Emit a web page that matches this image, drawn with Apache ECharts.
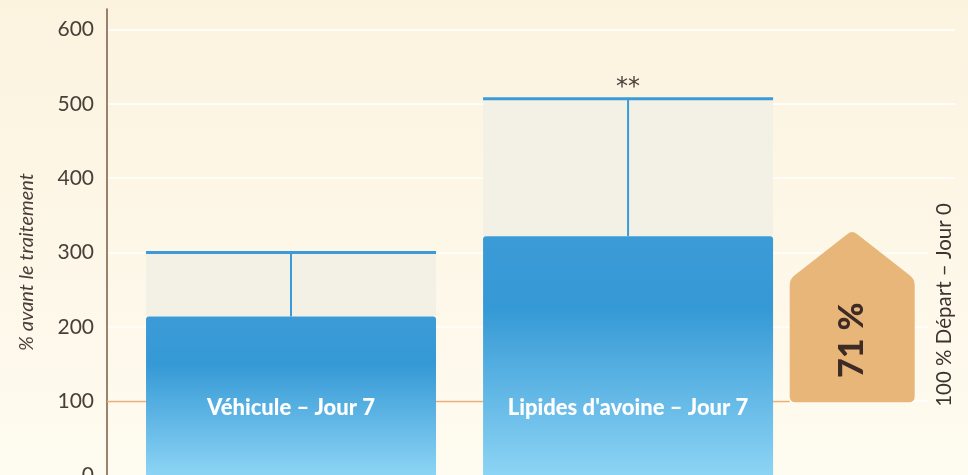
<!DOCTYPE html>
<html>
<head>
<meta charset="utf-8">
<script src="https://cdn.jsdelivr.net/npm/echarts@6/dist/echarts.min.js"></script>
<style>
html,body{margin:0;padding:0;}
#c{width:968px;height:475px;}
</style>
</head>
<body>
<div id="c"></div>
<script>
// ---- data ----
const categories = ['Véhicule – Jour 7', "Lipides d'avoine – Jour 7"];
const meanValues = [214, 322];
const errorTop = [300, 507];
const significance = ['', '**'];
const baseline = 100;          // 100 % Départ – Jour 0
const arrowTop = 330;
const arrowLabel = '71 %';
const yTicks = [0, 100, 200, 300, 400, 500, 600];
const yAxisName = '% avant le traitement';
const rightLabel = '100 % Départ – Jour 0';

// ---- layout ----
const X_MIN = -0.546, X_MAX = 1.970;
const ARROW_X = 1.665;
const BAR_W = 290;
const ARROW_HALF = 62.5;
const ARROW_SHOULDER = 49;

const chart = echarts.init(document.getElementById('c'));

const barData = categories.map((c, i) => [i, meanValues[i]]);
const errData = categories.map((c, i) => [i, meanValues[i], errorTop[i]]);

function roundedPolygon(pts, r) {
  let d = '';
  const n = pts.length;
  for (let i = 0; i < n; i++) {
    const p0 = pts[(i - 1 + n) % n], p1 = pts[i], p2 = pts[(i + 1) % n];
    const v1 = [p0[0] - p1[0], p0[1] - p1[1]], v2 = [p2[0] - p1[0], p2[1] - p1[1]];
    const l1 = Math.hypot(v1[0], v1[1]), l2 = Math.hypot(v2[0], v2[1]);
    const a = [p1[0] + v1[0] / l1 * r, p1[1] + v1[1] / l1 * r];
    const b = [p1[0] + v2[0] / l2 * r, p1[1] + v2[1] / l2 * r];
    d += (i === 0 ? 'M' : 'L') + a[0] + ' ' + a[1] + ' Q' + p1[0] + ' ' + p1[1] + ' ' + b[0] + ' ' + b[1] + ' ';
  }
  return d + 'Z';
}

const option = {
  backgroundColor: {
    type: 'linear', x: 0, y: 0, x2: 0, y2: 1,
    colorStops: [{offset: 0, color: '#fcf3df'}, {offset: 1, color: '#fefbf0'}]
  },
  animation: false,
  grid: [
    {left: 107, right: 13, top: 29.5, bottom: -0.5, outerBoundsMode: 'none', containLabel: false},
    {left: 107, width: 1, top: 9, bottom: -0.5, outerBoundsMode: 'none', containLabel: false}
  ],
  xAxis: [
    {type: 'value', gridIndex: 0, min: X_MIN, max: X_MAX,
     axisLine: {show: true, lineStyle: {color: '#e6ddcf', width: 2}},
     axisTick: {show: false}, axisLabel: {show: false}, splitLine: {show: false}},
    {type: 'value', gridIndex: 1, show: false}
  ],
  yAxis: [
    {type: 'value', gridIndex: 0, min: 0, max: 600, interval: 100,
     axisLine: {show: false}, axisTick: {show: false},
     axisLabel: {color: '#4a3e39', fontSize: 21, fontFamily: 'Lato', margin: 13,
                 formatter: v => yTicks.indexOf(v) >= 0 ? String(v) : ''},
     splitLine: {show: true, lineStyle: {color: '#ffffff', width: 1.5}}},
    {type: 'value', gridIndex: 1, min: 0, max: 1,
     axisLine: {show: true, lineStyle: {color: '#7a5a45', width: 1.5}},
     axisTick: {show: false}, axisLabel: {show: false}, splitLine: {show: false}}
  ],
  series: [
    {
      type: 'custom', xAxisIndex: 0, yAxisIndex: 0, z: 3,
      data: errData,
      renderItem: function (params, api) {
        const x = api.value(0);
        const pm = api.coord([x, api.value(1)]);
        const ph = api.coord([x, api.value(2)]);
        const h = BAR_W / 2;
        const sig = significance[params.dataIndex];
        const children = [
          {type: 'rect', shape: {x: pm[0] - h, y: ph[1], width: BAR_W, height: pm[1] - ph[1]},
           style: {fill: '#f3f1e6'}},
          {type: 'line', shape: {x1: pm[0], y1: pm[1], x2: ph[0], y2: ph[1]},
           style: {stroke: '#3a9bd8', lineWidth: 2}},
          {type: 'line', shape: {x1: ph[0] - h, y1: ph[1], x2: ph[0] + h, y2: ph[1]},
           style: {stroke: '#3a9bd8', lineWidth: 3}}
        ];
        if (sig) {
          children.push({type: 'text', x: ph[0], y: ph[1] - 11,
            style: {text: sig, fill: '#4a3e39', fontSize: 24, fontFamily: 'DejaVu Sans', align: 'center', verticalAlign: 'middle'}});
        }
        return {type: 'group', children: children};
      }
    },
    {
      type: 'bar', xAxisIndex: 0, yAxisIndex: 0, z: 4,
      data: barData,
      barWidth: BAR_W,
      itemStyle: {
        borderRadius: [3, 3, 0, 0],
        color: {type: 'linear', x: 0, y: 0, x2: 0, y2: 1,
          colorStops: [{offset: 0, color: '#3b9bd7'}, {offset: 0.3, color: '#3599d5'}, {offset: 1, color: '#8cd4f5'}]}
      },
      label: {
        show: true, position: 'insideBottom', distance: 57,
        formatter: p => categories[p.dataIndex],
        color: '#ffffff', fontSize: 22, fontWeight: 900, fontFamily: 'Lato'
      },
      markLine: {
        silent: true, symbol: 'none', z: 2,
        label: {show: false},
        lineStyle: {color: '#eaae74', width: 1.3, type: 'solid'},
        data: [[{coord: [X_MIN, baseline]}, {coord: [ARROW_X - ARROW_HALF / 337, baseline]}]]
      }
    },
    {
      type: 'custom', xAxisIndex: 0, yAxisIndex: 0, z: 6,
      data: [[ARROW_X, baseline, arrowTop]],
      renderItem: function (params, api) {
        const x = api.value(0);
        const pb = api.coord([x, api.value(1)]);
        const pt = api.coord([x, api.value(2)]);
        const l = pb[0] - ARROW_HALF, r = pb[0] + ARROW_HALF;
        const sh = pt[1] + ARROW_SHOULDER;
        const pts = [[l, pb[1] + 1], [l, sh], [pb[0], pt[1]], [r, sh], [r, pb[1] + 1]];
        return {
          type: 'group',
          children: [
            {type: 'path', shape: {pathData: roundedPolygon(pts, 6)}, style: {fill: '#e8b678'}},
            {type: 'text', x: pb[0], y: (sh + pb[1]) / 2, rotation: Math.PI / 2,
             style: {text: arrowLabel, fill: '#3d2b26', fontSize: 34, fontWeight: 900, fontFamily: 'Lato',
                     align: 'center', verticalAlign: 'middle'}}
          ]
        };
      }
    }
  ],
  graphic: [
    {type: 'text', x: 27, y: 262, rotation: Math.PI / 2, z: 10,
     style: {text: yAxisName, fill: '#4a3e39', fontSize: 20, fontStyle: 'italic', fontFamily: 'Lato',
             align: 'center', verticalAlign: 'middle'}},
    {type: 'rect', z: 9, shape: {x: 928, y: 198, width: 30, height: 214},
     style: {fill: {type: 'linear', x: 0, y: 0, x2: 0, y2: 1,
       colorStops: [{offset: 0, color: '#fdf6e6'}, {offset: 1, color: '#fefaee'}]}}},
    {type: 'text', x: 944, y: 305, rotation: Math.PI / 2, z: 10,
     style: {text: rightLabel, fill: '#3d3330', fontSize: 20.5, fontFamily: 'Lato', align: 'center', verticalAlign: 'middle'}}
  ]
};
chart.setOption(option);
</script>
</body>
</html>
